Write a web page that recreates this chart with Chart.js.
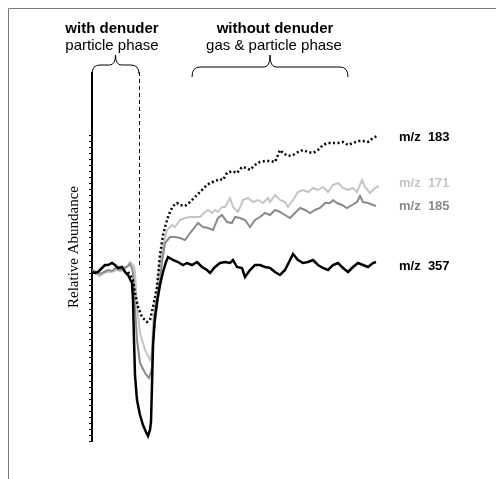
<!DOCTYPE html>
<html>
<head>
<meta charset="utf-8">
<script src="https://cdn.jsdelivr.net/npm/chart.js@4/dist/chart.umd.min.js"></script>
<style>
  body { margin: 0; background: #fff; }
  canvas { display: block; }
</style>
</head>
<body>
<canvas id="myChart" width="496" height="479"></canvas>
<script>
// time axis (arbitrary units) and relative abundance (arbitrary units)
var t357 = [0, 3, 6, 10, 13, 16, 20, 23, 26, 30, 33, 36, 40, 41, 42, 43, 45, 48, 51, 54, 56, 58, 59, 60, 61, 62, 63, 65, 68, 71, 74, 76,
  81, 86, 91, 95, 100, 105, 110, 115, 118, 123, 128, 133, 138, 141, 145, 150, 153, 158, 163, 168, 173, 178, 183, 188, 193, 198,
  201, 206, 211, 216, 221, 226, 231, 236, 241, 246, 251, 256, 261, 266, 271, 276, 281, 284];
var mz357 = [169, 168, 169, 173, 176, 176, 178, 176, 173, 174, 169, 166, 158, 141, 101, 66, 41, 26, 16, 9, 5, 11, 19, 56, 94, 111, 124, 139, 156, 169, 179, 184,
  181, 179, 176, 178, 176, 179, 174, 171, 168, 174, 178, 179, 178, 181, 174, 173, 164, 171, 176, 176, 174, 173, 169, 166, 171, 181,
  187, 181, 178, 179, 181, 176, 173, 171, 176, 178, 173, 169, 174, 178, 176, 174, 178, 179];

var t185 = [0, 4, 8, 12, 16, 20, 24, 28, 32, 36, 38, 40, 41, 43, 45, 48, 53, 57, 59, 60, 61, 63, 65, 68, 70, 73, 78, 83, 88, 93, 98,
  103, 106, 111, 116, 121, 126, 130, 135, 140, 143, 148, 153, 158, 163, 168, 173, 178, 183, 188, 193, 198, 203, 208, 213, 218,
  223, 228, 233, 238, 241, 245, 250, 255, 260, 265, 268, 271, 276, 281, 284];
var mz185 = [171, 169, 167, 169, 171, 170, 173, 171, 173, 175, 177, 173, 168, 134, 101, 78, 68, 63, 69, 74, 101, 119, 134, 161, 179, 198, 204, 204, 203, 201, 208,
  214, 218, 214, 213, 211, 223, 226, 219, 218, 224, 223, 221, 214, 221, 224, 228, 226, 231, 229, 226, 223, 228, 233, 231, 228,
  231, 233, 238, 238, 241, 238, 236, 233, 236, 239, 245, 239, 238, 236, 235];

var t171 = [0, 4, 8, 12, 16, 20, 24, 28, 32, 36, 38, 40, 42, 43, 45, 48, 53, 58, 59, 60, 61, 63, 65, 68, 71, 75, 80, 83, 88, 93, 98,
  103, 108, 113, 116, 120, 123, 126, 130, 133, 138, 141, 146, 151, 156, 161, 166, 171, 176, 178, 183, 188, 193, 196, 201, 206,
  211, 216, 221, 226, 231, 236, 241, 246, 251, 256, 261, 265, 270, 273, 278, 283, 287];
var mz171 = [169, 167, 165, 168, 169, 169, 171, 170, 171, 175, 179, 177, 175, 169, 134, 108, 91, 81, 85, 91, 118, 136, 151, 179, 196, 211, 216, 214, 221, 223, 224,
  224, 224, 229, 231, 228, 231, 229, 234, 234, 243, 234, 229, 241, 243, 239, 241, 238, 243, 239, 246, 241, 239, 234, 241, 249,
  251, 249, 253, 251, 254, 249, 256, 258, 253, 251, 253, 249, 261, 254, 248, 253, 255];

var t183 = [36, 38, 41, 43, 46, 50, 55, 58, 61, 65, 68, 71, 75, 78, 81, 85, 88, 93, 98, 103, 108, 113, 118, 123, 128, 131, 135,
  140, 145, 150, 155, 158, 163, 168, 173, 178, 183, 186, 188, 191, 196, 201, 206, 211, 216, 221, 226, 231, 236, 241, 246, 251,
  256, 261, 266, 271, 276, 281, 285];
var mz183 = [169, 166, 161, 148, 134, 124, 119, 121, 134, 154, 186, 206, 221, 229, 235, 238, 236, 235, 239, 244, 249, 254, 258, 260, 262, 261, 268,
  270, 268, 274, 273, 271, 276, 279, 280, 280, 279, 286, 291, 288, 285, 286, 289, 291, 289, 288, 291, 296, 298, 298, 298, 299,
  296, 298, 300, 300, 299, 303, 305];

var seriesNames = ['m/z  357', 'm/z  183', 'm/z  185', 'm/z  171'];
var seriesColors = ['#000000', '#000000', '#8a8a8a', '#c4c4c4'];
var labelValues = [175, 304, 235, 258];

function pts(t, v) {
  return t.map(function (x, i) { return { x: x, y: v[i] }; });
}

var annotations = {
  id: 'annotations',
  beforeDraw: function (chart) {
    var c = chart.ctx;
    c.save();
    c.fillStyle = '#fff';
    c.fillRect(0, 0, chart.width, chart.height);
    c.strokeStyle = '#777';
    c.lineWidth = 1;
    c.beginPath();
    c.moveTo(8.5, chart.height);
    c.lineTo(8.5, 8.5);
    c.lineTo(chart.width, 8.5);
    c.stroke();
    c.restore();
  },
  afterDraw: function (chart) {
    var c = chart.ctx;
    var xs = chart.scales.x, ys = chart.scales.y;
    var area = chart.chartArea;
    c.save();
    c.fillStyle = '#000';
    c.textAlign = 'center';
    c.textBaseline = 'alphabetic';
    c.font = 'bold 15px "Liberation Sans", Arial, sans-serif';
    c.fillText('with denuder', 112, 33);
    c.fillText('without denuder', 275, 33);
    c.font = '15px "Liberation Sans", Arial, sans-serif';
    c.fillText('particle phase', 112, 50);
    c.fillText('gas & particle phase', 274, 50);

    // braces
    function brace(x1, x2, tipY, armY, endY) {
      var xm = (x1 + x2) / 2;
      c.beginPath();
      c.moveTo(x1, endY);
      c.quadraticCurveTo(x1, armY, x1 + 8, armY);
      c.lineTo(xm - 6, armY);
      c.quadraticCurveTo(xm, armY, xm, tipY);
      c.quadraticCurveTo(xm, armY, xm + 6, armY);
      c.lineTo(x2 - 8, armY);
      c.quadraticCurveTo(x2, armY, x2, endY);
      c.stroke();
    }
    c.strokeStyle = '#000';
    c.lineWidth = 1;
    brace(xs.getPixelForValue(0), xs.getPixelForValue(47), 55, 65, 74);
    brace(xs.getPixelForValue(100), xs.getPixelForValue(256), 55, 67, 77);

    // axis line continues up to the brace
    c.lineWidth = 2;
    c.beginPath();
    c.moveTo(area.left, 72);
    c.lineTo(area.left, area.top);
    c.stroke();

    // dashed boundary
    c.lineWidth = 1;
    c.setLineDash([4, 3]);
    c.beginPath();
    var xd = Math.round(xs.getPixelForValue(47)) + 0.5;
    c.moveTo(xd, 72);
    c.lineTo(xd, ys.getPixelForValue(176));
    c.stroke();
    c.setLineDash([]);

    // series labels
    c.textAlign = 'left';
    c.textBaseline = 'middle';
    c.font = 'bold 13px "Liberation Sans", Arial, sans-serif';
    seriesNames.forEach(function (n, i) {
      c.fillStyle = seriesColors[i];
      c.fillText(n, area.right + 19, ys.getPixelForValue(labelValues[i]));
    });

    // y title
    c.fillStyle = '#000';
    c.translate(74, 247);
    c.rotate(-Math.PI / 2);
    c.textAlign = 'center';
    c.font = '15px "Liberation Serif", "Times New Roman", serif';
    c.fillText('Relative Abundance', 0, 0);
    c.restore();
  }
};

var ctx = document.getElementById('myChart').getContext('2d');
var chart = new Chart(ctx, {
  type: 'line',
  data: {
    datasets: [
      { label: seriesNames[0], data: pts(t357, mz357), borderColor: seriesColors[0], borderWidth: 2.5 },
      { label: seriesNames[1], data: pts(t183, mz183), borderColor: seriesColors[1], borderWidth: 2.5, borderDash: [2, 2.5] },
      { label: seriesNames[2], data: pts(t185, mz185), borderColor: seriesColors[2], borderWidth: 2 },
      { label: seriesNames[3], data: pts(t171, mz171), borderColor: seriesColors[3], borderWidth: 2 }
    ]
  },
  options: {
    responsive: false,
    animation: false,
    layout: { padding: { top: 135, right: 116, bottom: 38, left: 0 } },
    elements: { point: { radius: 0 }, line: { tension: 0, fill: false } },
    plugins: { legend: { display: false }, tooltip: { enabled: false } },
    scales: {
      x: { type: 'linear', min: 0, max: 288, display: false },
      y: {
        min: 0, max: 306,
        afterFit: function (s) { s.width = 92; },
        border: { display: true, color: '#000', width: 2 },
        grid: { drawOnChartArea: false, drawTicks: true, tickLength: 3, color: '#000', lineWidth: 1 },
        ticks: { display: false, stepSize: 6 }
      }
    }
  },
  plugins: [annotations]
});
</script>
</body>
</html>
